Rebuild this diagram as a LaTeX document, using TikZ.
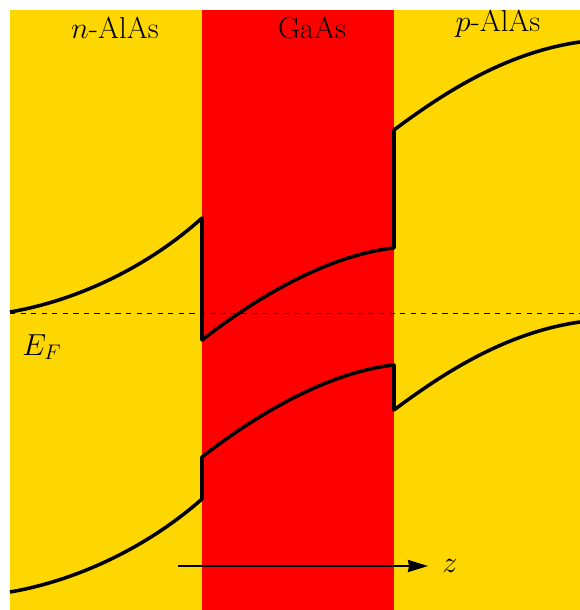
\documentclass[tikz,border=0pt]{standalone}
\usetikzlibrary{arrows.meta}
\definecolor{alas}{HTML}{FFD700}
\definecolor{gaas}{HTML}{FF0000}
\begin{document}
\begin{tikzpicture}[>={Stealth[inset=0.6pt,length=4mm,width=2.4mm]},font=\LARGE,band/.style={line width=2pt,line join=round}]
\useasboundingbox (0,0) rectangle (11.6,12.2);
\fill[alas] (0.2,0) rectangle (11.6,12);
\fill[gaas] (4.04,0) rectangle (7.88,12);

\node (nlayer) at (2.3,11.64) {$n$-AlAs};
\node (glayer) at (6.24,11.64) {GaAs};
\node (player) at (9.96,11.72) {$p$-AlAs};

% conduction band
\draw[band] (0.2,5.96) .. controls (1.6,6.2) and (3.0,6.9) .. (4.04,7.84)
  -- (4.04,5.4) .. controls (5.2,6.3) and (6.6,7.1) .. (7.88,7.24)
  -- (7.88,9.6) .. controls (9.0,10.44) and (10.2,11.16) .. (11.6,11.36);

% valence band
\draw[band] (0.2,0.36) .. controls (1.6,0.6) and (3.0,1.3) .. (4.04,2.22)
  -- (4.04,3.06) .. controls (5.2,3.96) and (6.6,4.76) .. (7.88,4.9)
  -- (7.88,4.0) .. controls (9.0,4.84) and (10.2,5.56) .. (11.6,5.76);

% Fermi level
\draw[dashed,thin] (0.2,5.94) -- (11.6,5.94);
\node (fermi) at (0.84,5.26) {$E_F$};

\coordinate (zstart) at (3.56,0.88);
\coordinate (zend) at (8.56,0.88);
\node (zlabel) at (9.0,0.88) {$z$};
\draw[->,line width=1.2pt] (zstart) -- (zend);
\end{tikzpicture}
\end{document}
